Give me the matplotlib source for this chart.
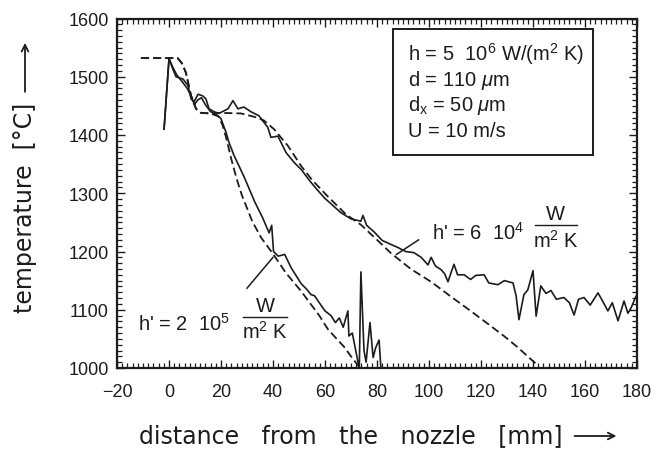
import matplotlib
matplotlib.use("Agg")
import matplotlib.pyplot as plt
from matplotlib.ticker import MultipleLocator
from matplotlib.patches import Rectangle

plt.rcParams['font.family'] = ['Liberation Sans', 'DejaVu Sans']
plt.rcParams['mathtext.fontset'] = 'custom'
plt.rcParams['mathtext.rm'] = 'Liberation Sans'
plt.rcParams['mathtext.it'] = 'Liberation Sans:italic'
plt.rcParams['mathtext.bf'] = 'Liberation Sans:bold'

# ---- data (distance mm, temperature degC) ----
meas_h6e4 = [(-1.9, 1410), (0, 1531), (1.5, 1513), (2.7, 1500), (5.4, 1496), (7.3, 1485),
             (8.5, 1462), (9.6, 1457), (11.2, 1470), (13, 1467), (14.2, 1462), (15.4, 1445),
             (17.3, 1440), (19.2, 1437), (22.7, 1445), (24.6, 1459), (26.5, 1445), (28.8, 1448),
             (31.5, 1440), (34.6, 1433), (38, 1413), (39.2, 1396), (41.9, 1398), (45, 1370),
             (48.1, 1353), (51, 1340), (54, 1322), (57, 1306), (60, 1291), (62.3, 1282),
             (66, 1267), (70, 1256), (73.8, 1252), (74.6, 1262), (76, 1245), (78.8, 1234),
             (82, 1219), (85.4, 1212), (88, 1207), (91, 1200), (94.2, 1198), (97, 1190),
             (99.6, 1177), (100.8, 1190), (102.5, 1175), (104.6, 1169), (106, 1162), (107.3, 1148),
             (108.5, 1164), (109.6, 1178), (111, 1160), (113.5, 1160), (116, 1152), (118, 1159),
             (121.2, 1160), (123, 1146), (126.5, 1143), (129, 1150), (132.3, 1146), (133.5, 1124),
             (134.6, 1083), (136.5, 1126), (138, 1134), (140, 1167), (141.2, 1089), (143, 1141),
             (145, 1128), (146.9, 1133), (149, 1118), (151.9, 1121), (154, 1112), (155.8, 1091),
             (157.5, 1118), (159.6, 1121), (162, 1108), (165, 1129), (167, 1113), (168.8, 1098),
             (170.5, 1112), (172.7, 1081), (175, 1115), (176.5, 1094), (177.7, 1103), (179.6, 1123)]

meas_h2e5 = [(-1.9, 1410), (0, 1531), (1.5, 1516), (3, 1503), (5, 1492), (7, 1480), (8.5, 1467),
             (9.8, 1452), (11, 1460), (12.5, 1464), (14, 1452), (16, 1440), (18, 1436), (20, 1428),
             (21.9, 1405), (23, 1388), (25, 1365), (28.9, 1328), (33, 1285), (36, 1258),
             (38.5, 1232), (39.5, 1245), (40.2, 1200), (42, 1192), (44.5, 1195), (47, 1172),
             (50.8, 1145), (53, 1135), (54.6, 1126), (56, 1124), (57.8, 1112), (60, 1098),
             (62.3, 1090), (64, 1078), (65.5, 1086), (67, 1070), (68.8, 1098), (69.2, 1055),
             (70.5, 1060), (72.7, 1010), (73.2, 1000), (73.8, 1165), (75, 1030), (75.8, 1010),
             (77.3, 1078), (78.5, 1018), (79.5, 1035), (80.8, 1048), (81.5, 1000)]

model_h6e4 = [(-10.8, 1532), (3.3, 1532), (5, 1523), (6.5, 1507), (8.5, 1467), (10.4, 1445),
              (12.3, 1438), (16, 1437), (20, 1438), (27.7, 1437), (33, 1431), (36.5, 1425),
              (40.4, 1410), (45.8, 1381), (50.8, 1347), (55, 1323), (61.2, 1294), (68, 1264),
              (73.8, 1246), (80, 1220), (85.4, 1197), (93, 1170), (100.8, 1148), (108, 1124),
              (116, 1098), (122, 1078), (128.8, 1055), (134, 1036), (139.2, 1015), (141, 1008)]

model_h2e5 = [(-10.8, 1532), (3.3, 1532), (5, 1523), (6.5, 1507), (8.5, 1467), (10.4, 1445),
              (12.3, 1438), (16, 1437), (19, 1432), (20.5, 1418), (22, 1395), (24, 1358),
              (26, 1325), (28, 1297), (32, 1252), (35.4, 1224), (40, 1196), (45, 1163),
              (50.8, 1132), (57.8, 1090), (61.2, 1066), (67.4, 1036), (70, 1020), (73.5, 1000)]

x_ticks = [-20, 0, 20, 40, 60, 80, 100, 120, 140, 160, 180]
y_ticks = [1000, 1100, 1200, 1300, 1400, 1500, 1600]

params = ["h = 5  10$^6$ W/(m$^2$ K)", "d = 110 $\\mu$m", "d$_\\mathrm{x}$ = 50 $\\mu$m", "U = 10 m/s"]
h_labels = ["h' = 2  10$^5$", "h' = 6  10$^4$"]
unit_num = "W"
unit_den = "m$^2$ K"
x_label = "distance   from   the   nozzle   [mm]"
y_label = "temperature  [\u00b0C]"

ink = '#1c1c1c'
W, H = 657, 452

fig = plt.figure(figsize=(W / 100, H / 100), dpi=100)
ax = fig.add_axes([117 / W, 1 - 369 / H, 520 / W, 349.5 / H])

def xy(pairs):
    return [p[0] for p in pairs], [p[1] for p in pairs]

for pairs in (model_h6e4, model_h2e5):
    xs, ys = xy(pairs)
    ax.plot(xs, ys, color=ink, lw=1.3, ls=(0, (4.5, 2.2)))
for pairs in (meas_h6e4, meas_h2e5):
    xs, ys = xy(pairs)
    ax.plot(xs, ys, color=ink, lw=1.2)

ax.set_xlim(-20, 180)
ax.set_ylim(1000, 1600)
ax.set_xticks(x_ticks)
ax.set_yticks(y_ticks)
ax.xaxis.set_minor_locator(MultipleLocator(2))
ax.yaxis.set_minor_locator(MultipleLocator(10))
ax.tick_params(which='both', direction='in', top=True, right=True, colors=ink)
ax.tick_params(which='major', length=6, width=1.0, labelsize=13)
ax.tick_params(which='minor', length=3.5, width=0.9)
ax.tick_params(axis='x', pad=11)
ax.tick_params(axis='y', pad=6)
for s in ax.spines.values():
    s.set_linewidth(1.6)
    s.set_color(ink)

fs = 14.5
# parameter box
ax.add_patch(Rectangle((86.2, 1365), 163.1 - 86.2, 1582 - 1365, fill=False, lw=1.4, ec=ink))
for txt, yv in zip(params, [1540, 1496, 1452, 1408]):
    ax.text(92, yv, txt, fontsize=fs, ha='left', va='center', color=ink)

# annotation h' = 2e5
ax.plot([40, 30], [1190, 1137], color=ink, lw=1.1)
ax.text(-11.9, 1078, h_labels[0], fontsize=fs, ha='left', va='center', color=ink)
ax.text(37, 1108, unit_num, fontsize=fs, ha='center', va='center', color=ink)
ax.plot([28.5, 45.4], [1088, 1088], color=ink, lw=1.0)
ax.text(37, 1064, unit_den, fontsize=fs, ha='center', va='center', color=ink)

# annotation h' = 6e4
ax.plot([87.5, 96], [1195, 1220], color=ink, lw=1.1)
ax.text(101.2, 1234, h_labels[1], fontsize=fs, ha='left', va='center', color=ink)
ax.text(148.8, 1265, unit_num, fontsize=fs, ha='center', va='center', color=ink)
ax.plot([140.8, 156.9], [1245, 1245], color=ink, lw=1.0)
ax.text(148.8, 1220, unit_den, fontsize=fs, ha='center', va='center', color=ink)

# axis labels with long arrows
tx = fig.text(139 / W, 1 - 443.5 / H, x_label, fontsize=17, family=['DejaVu Sans'],
              ha='left', va='baseline', color=ink)
ty = fig.text(25 / W, 1 - 208 / H, y_label, fontsize=17, family=['DejaVu Sans'],
              rotation=90, ha='center', va='center', color=ink)
fig.canvas.draw()
r = fig.canvas.get_renderer()
bx = tx.get_window_extent(r)
by = ty.get_window_extent(r)
ax.annotate('', xy=(bx.x1 + 54, H - 437), xytext=(bx.x1 + 12, H - 437),
            xycoords='figure pixels', textcoords='figure pixels', annotation_clip=False,
            arrowprops=dict(arrowstyle='->', lw=1.3, color=ink, shrinkA=0, shrinkB=0,
                            mutation_scale=12))
ax.annotate('', xy=(25, by.y1 + 59), xytext=(25, by.y1 + 10),
            xycoords='figure pixels', textcoords='figure pixels', annotation_clip=False,
            arrowprops=dict(arrowstyle='->', lw=1.3, color=ink, shrinkA=0, shrinkB=0,
                            mutation_scale=12))

fig.savefig("out.png", dpi=100)
